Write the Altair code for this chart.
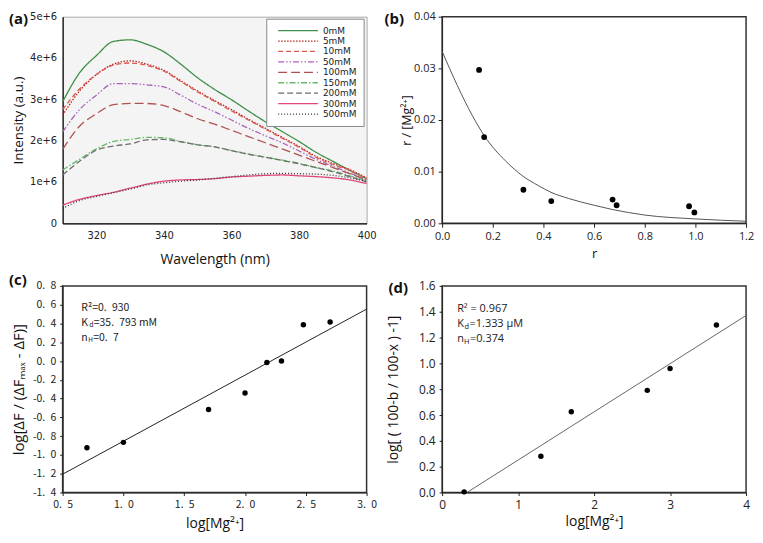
import altair as alt
import pandas as pd

# ---------------- Panel (a): emission spectra ----------------
wavelength = [310, 315, 320, 325, 330, 335, 340, 345, 350, 355, 360, 365, 370, 375, 380, 385, 390, 395, 400]
concentrations = ["0mM", "5mM", "10mM", "50mM", "100mM", "150mM", "200mM", "300mM", "500mM"]
# intensity in units of 1e6
int_0mM = [2.94, 3.64, 4.06, 4.40, 4.44, 4.33, 4.15, 3.85, 3.52, 3.24, 2.99, 2.72, 2.46, 2.22, 1.98, 1.72, 1.50, 1.28, 1.08]
int_5mM = [2.62, 3.20, 3.60, 3.85, 3.93, 3.85, 3.70, 3.45, 3.20, 2.97, 2.75, 2.52, 2.30, 2.08, 1.86, 1.62, 1.45, 1.30, 1.10]
int_10mM = [2.75, 3.25, 3.60, 3.83, 3.88, 3.82, 3.68, 3.43, 3.18, 2.95, 2.72, 2.50, 2.28, 2.06, 1.84, 1.60, 1.42, 1.28, 1.08]
int_50mM = [2.21, 2.75, 3.10, 3.38, 3.38, 3.35, 3.30, 3.10, 2.88, 2.70, 2.50, 2.30, 2.12, 1.95, 1.75, 1.55, 1.38, 1.22, 1.05]
int_100mM = [1.79, 2.35, 2.65, 2.87, 2.90, 2.90, 2.85, 2.70, 2.53, 2.40, 2.25, 2.10, 1.95, 1.80, 1.65, 1.50, 1.35, 1.20, 1.05]
int_150mM = [1.29, 1.55, 1.80, 1.98, 2.03, 2.08, 2.07, 1.98, 1.90, 1.85, 1.76, 1.68, 1.60, 1.53, 1.45, 1.35, 1.27, 1.15, 1.02]
int_200mM = [1.17, 1.50, 1.77, 1.87, 1.92, 2.02, 2.03, 1.97, 1.90, 1.85, 1.76, 1.67, 1.60, 1.52, 1.44, 1.35, 1.25, 1.13, 1.00]
int_300mM = [0.44, 0.58, 0.67, 0.75, 0.85, 0.95, 1.02, 1.05, 1.06, 1.08, 1.12, 1.14, 1.16, 1.17, 1.15, 1.13, 1.10, 1.05, 0.96]
int_500mM = [0.36, 0.55, 0.65, 0.74, 0.83, 0.93, 0.98, 1.02, 1.05, 1.09, 1.13, 1.17, 1.20, 1.21, 1.20, 1.19, 1.16, 1.10, 1.02]
intensities = [int_0mM, int_5mM, int_10mM, int_50mM, int_100mM, int_150mM, int_200mM, int_300mM, int_500mM]

line_colors = ["#3f8f48", "#b3261e", "#e0574e", "#a862b8", "#b05252", "#6cb86c", "#6e6e6e", "#e0457b", "#333333"]
line_dashes = [[1, 0], [1.5, 1.5], [5, 3], [6, 2, 1.5, 2, 1.5, 2], [9, 4], [6, 2, 1.5, 2], [6, 3], [1, 0], [1, 2]]

# ---------------- Panel (b): Scatchard plot ----------------
r_points = [0.146, 0.166, 0.321, 0.431, 0.673, 0.689, 0.975, 0.996]
ratio_points = [0.0297, 0.0167, 0.0065, 0.0043, 0.0046, 0.0035, 0.0033, 0.0021]
curve_r = [0.0, 0.06, 0.12, 0.17, 0.25, 0.32, 0.38, 0.43, 0.50, 0.60, 0.67, 0.80, 1.00, 1.20]
curve_ratio = [0.0333, 0.0267, 0.0208, 0.0167, 0.0121, 0.0091, 0.0073, 0.0060, 0.0048, 0.0035, 0.0027, 0.0016, 0.00085, 0.0004]

# ---------------- Panel (c): Hill plot ----------------
c_log_mg = [0.70, 1.00, 1.70, 2.00, 2.18, 2.30, 2.48, 2.70]
c_log_ratio = [-0.924, -0.866, -0.516, -0.341, -0.016, 0.0, 0.387, 0.415]
c_fit_x = [0.5, 3.0]
c_fit_y = [-1.205, 0.553]

# ---------------- Panel (d): Hill plot ----------------
d_log_mg = [0.29, 1.30, 1.70, 2.70, 3.00, 3.61]
d_log_ratio = [0.005, 0.281, 0.626, 0.791, 0.961, 1.297]
d_fit_x = [0.327, 4.0]
d_fit_y = [0.0, 1.371]

panel_labels = ["(a)", "(b)", "(c)", "(d)"]

FONT_A = "DejaVu Sans"
FONT_B = "Open Sans"
FONT_C = "Noto Sans CJK JP"
W, H = 306, 208


def axis(**kw):
    base = dict(grid=False, domainColor="#222", domainWidth=1, tickColor="#222",
                labelColor="#222", titleColor="#111", titleFontWeight="normal",
                titleBaseline="middle", labelOverlap=False, labelFlush=False)
    base.update(kw)
    return alt.Axis(**base)


def tag(txt, dx, dy):
    return alt.Chart(pd.DataFrame({"label": [txt]})).mark_text(
        align="left", baseline="middle", font=FONT_B, fontSize=15, fontWeight="bold", color="#111"
    ).encode(x=alt.value(dx), y=alt.value(dy), text="label:N")


def note(txt, x, y, xs, ys, ax, ay, dx=0, dy=0, size=11, font=FONT_B):
    return alt.Chart(pd.DataFrame({"x": [x], "y": [y], "t": [txt]})).mark_text(
        align="left", baseline="middle", dx=dx, dy=dy, fontSize=size, font=font, color="#222"
    ).encode(x=alt.X("x:Q", scale=xs, axis=ax), y=alt.Y("y:Q", scale=ys, axis=ay), text="t:N")


frame = alt.ViewBackground(fill="white", stroke="#333", strokeWidth=1.5)

# ---- (a)
rows = []
for c, vals in zip(concentrations, intensities):
    for w, v in zip(wavelength, vals):
        rows.append({"wavelength": w, "intensity": v * 1e6, "conc": c})
df_a = pd.DataFrame(rows)

legend_a = alt.Legend(title=None, orient="none", legendX=205, legendY=2, fillColor="white", strokeColor="#888",
                      padding=7, labelFont=FONT_A, labelFontSize=9, labelColor="#222",
                      symbolType="M0,0H10", symbolSize=64, symbolStrokeWidth=1.3,
                      labelOffset=40, rowPadding=0.5)

lines_a = alt.Chart(df_a).mark_line(interpolate="monotone", strokeWidth=1.3).encode(
    x=alt.X("wavelength:Q", scale=alt.Scale(domain=[310, 400], nice=False, zero=False),
            axis=axis(values=[320, 340, 360, 380, 400], ticks=False, labelPadding=7,
                      labelFont=FONT_A, labelFontSize=10, domainColor="#000", domainWidth=1.2,
                      title="Wavelength (nm)", titleFont=FONT_B, titleFontSize=14, titleY=36)),
    y=alt.Y("intensity:Q", scale=alt.Scale(domain=[0, 5e6], nice=False),
            axis=axis(values=[0, 1e6, 2e6, 3e6, 4e6, 5e6],
                      labelExpr="datum.value == 0 ? '0' : format(datum.value / 1000000, 'd') + 'e+6'",
                      ticks=False, labelPadding=6, labelFont=FONT_A, labelFontSize=10,
                      domainColor="#000", domainWidth=1.2,
                      title="Intensity (a.u.)", titleFont=FONT_B, titleFontSize=13.5, titleX=-44)),
    color=alt.Color("conc:N", scale=alt.Scale(domain=concentrations, range=line_colors), legend=legend_a),
    strokeDash=alt.StrokeDash("conc:N", scale=alt.Scale(domain=concentrations, range=line_dashes), legend=legend_a),
)
panel_a = alt.layer(lines_a, tag(panel_labels[0], -54, 2)).properties(
    width=W, height=H, view=alt.ViewBackground(fill="#f4f4f4", stroke="#aaa", strokeWidth=1))

# ---- (b)
xb = alt.Scale(domain=[0, 1.2], nice=False)
yb = alt.Scale(domain=[0, 0.04], nice=False)
df_b_pts = pd.DataFrame({"r": r_points, "ratio": ratio_points})
df_b_curve = pd.DataFrame({"r": curve_r, "ratio": curve_ratio})
ax_bx = axis(values=[0, 0.2, 0.4, 0.6, 0.8, 1.0, 1.2], format=".1f", tickSize=4, labelPadding=3,
             labelFont=FONT_B, labelFontSize=11, title="r", titleFont=FONT_B, titleFontSize=13, titleY=30)
ax_by = axis(values=[0, 0.01, 0.02, 0.03, 0.04], format=".2f", tickSize=4, labelPadding=3,
             labelFont=FONT_B, labelFontSize=11, title="r / [Mg²⁺]", titleFont=FONT_B,
             titleFontSize=12.5, titleX=-36)
curve_b = alt.Chart(df_b_curve).mark_line(interpolate="monotone", color="#555", strokeWidth=1).encode(
    x=alt.X("r:Q", scale=xb, axis=ax_bx), y=alt.Y("ratio:Q", scale=yb, axis=ax_by))
pts_b = alt.Chart(df_b_pts).mark_circle(size=34, color="black", opacity=1).encode(
    x=alt.X("r:Q", scale=xb, axis=ax_bx), y=alt.Y("ratio:Q", scale=yb, axis=ax_by))
panel_b = alt.layer(curve_b, pts_b, tag(panel_labels[1], -58, 2)).properties(width=W, height=H, view=frame)

# ---- (c)
xc = alt.Scale(domain=[0.5, 3.0], nice=False, zero=False)
yc = alt.Scale(domain=[-1.4, 0.8], nice=False, zero=False)
c_label_expr = "replace(replace(format(datum.value, '.1f'), '\u2212', '-'), '.', '.\u2002')"
ax_cx = axis(values=[0.5, 1.0, 1.5, 2.0, 2.5, 3.0], labelExpr=c_label_expr, tickSize=3, labelPadding=4,
             labelFont=FONT_C, labelFontSize=10.5, title="log[Mg²⁺]", titleFont=FONT_B,
             titleFontSize=14, titleY=31)
ax_cy = axis(values=[-1.4, -1.2, -1.0, -0.8, -0.6, -0.4, -0.2, 0.0, 0.2, 0.4, 0.6, 0.8],
             labelExpr=c_label_expr, tickSize=3, labelPadding=4, labelFont=FONT_C, labelFontSize=10.5,
             title="log[ΔF / (ΔFₘₐₓ - ΔF)]", titleFont=FONT_B, titleFontSize=15, titleX=-44)
fit_c = alt.Chart(pd.DataFrame({"x": c_fit_x, "y": c_fit_y})).mark_line(color="#222", strokeWidth=1).encode(
    x=alt.X("x:Q", scale=xc, axis=ax_cx), y=alt.Y("y:Q", scale=yc, axis=ax_cy))
pts_c = alt.Chart(pd.DataFrame({"x": c_log_mg, "y": c_log_ratio})).mark_circle(size=30, color="black", opacity=1).encode(
    x=alt.X("x:Q", scale=xc, axis=ax_cx), y=alt.Y("y:Q", scale=yc, axis=ax_cy))
notes_c = [
    note("R²=0.\u2002930", 0.654, 0.56, xc, yc, ax_cx, ax_cy, font=FONT_C, size=10.5),
    note("K", 0.654, 0.406, xc, yc, ax_cx, ax_cy, font=FONT_C, size=10.5),
    note("d", 0.654, 0.406, xc, yc, ax_cx, ax_cy, dx=8, dy=2.5, font=FONT_C, size=7),
    note("=35.\u2002793 mM", 0.654, 0.406, xc, yc, ax_cx, ax_cy, dx=12.5, font=FONT_C, size=10.5),
    note("n", 0.654, 0.25, xc, yc, ax_cx, ax_cy, font=FONT_C, size=10.5),
    note("H", 0.654, 0.25, xc, yc, ax_cx, ax_cy, dx=7, dy=2.5, font=FONT_C, size=6.5),
    note("=0.\u20027", 0.654, 0.25, xc, yc, ax_cx, ax_cy, dx=12, font=FONT_C, size=10.5),
]
panel_c = alt.layer(fit_c, pts_c, *notes_c, tag(panel_labels[2], -54, -6)).properties(width=W, height=H, view=frame)

# ---- (d)
xd = alt.Scale(domain=[0, 4], nice=False)
yd = alt.Scale(domain=[0, 1.6], nice=False)
ax_dx = axis(values=[0, 1, 2, 3, 4], format="d", tickSize=3, labelPadding=4, labelFont=FONT_B,
             labelFontSize=12, title="log[Mg²⁺]", titleFont=FONT_B, titleFontSize=14, titleY=29)
ax_dy = axis(values=[0, 0.2, 0.4, 0.6, 0.8, 1.0, 1.2, 1.4, 1.6], format=".1f", tickSize=3, labelPadding=4,
             labelFont=FONT_B, labelFontSize=12, title="log[ ( 100-b / 100-x ) -1]", titleFont=FONT_B,
             titleFontSize=14, titleX=-49)
fit_d = alt.Chart(pd.DataFrame({"x": d_fit_x, "y": d_fit_y})).mark_line(color="#666", strokeWidth=1).encode(
    x=alt.X("x:Q", scale=xd, axis=ax_dx), y=alt.Y("y:Q", scale=yd, axis=ax_dy))
pts_d = alt.Chart(pd.DataFrame({"x": d_log_mg, "y": d_log_ratio})).mark_circle(size=30, color="black", opacity=1).encode(
    x=alt.X("x:Q", scale=xd, axis=ax_dx), y=alt.Y("y:Q", scale=yd, axis=ax_dy))
notes_d = [
    note("R² = 0.967", 0.198, 1.418, xd, yd, ax_dx, ax_dy),
    note("K", 0.198, 1.305, xd, yd, ax_dx, ax_dy),
    note("d", 0.198, 1.305, xd, yd, ax_dx, ax_dy, dx=7.5, dy=3, size=7.5),
    note("=1.333 μM", 0.198, 1.305, xd, yd, ax_dx, ax_dy, dx=12.5),
    note("n", 0.198, 1.192, xd, yd, ax_dx, ax_dy),
    note("H", 0.198, 1.192, xd, yd, ax_dx, ax_dy, dx=6.8, dy=3, size=7.5),
    note("=0.374", 0.198, 1.192, xd, yd, ax_dx, ax_dy, dx=13),
]
panel_d = alt.layer(fit_d, pts_d, *notes_d, tag(panel_labels[3], -54, 2)).properties(width=W, height=H, view=frame)

chart = alt.concat(
    panel_a, panel_b, panel_c, panel_d, columns=2,
    spacing={"row": 63, "column": 76}, bounds="flush", align="all",
).properties(padding=0, background="white")

chart.save("out.html", embed_options={"renderer": "svg", "actions": False})
